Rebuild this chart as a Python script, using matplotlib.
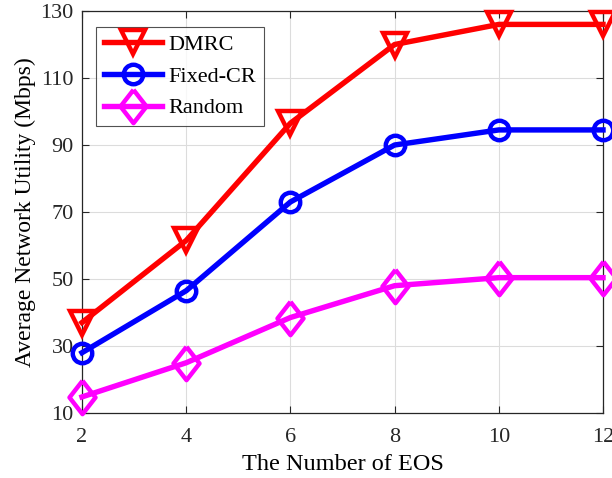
import matplotlib
matplotlib.use("Agg")
import matplotlib.pyplot as plt

plt.rcParams['font.family'] = ['Liberation Serif', 'DejaVu Serif']
plt.rcParams['mathtext.fontset'] = 'stix'

eos = [2, 4, 6, 8, 10, 12]
dmrc = [37, 61.5, 96.5, 120, 126, 126]
fixed_cr = [28, 46.5, 73, 90, 94.5, 94.5]
random_sel = [14.8, 25, 38.5, 48, 50.4, 50.4]

xticks = [2, 4, 6, 8, 10, 12]
yticks = [10, 30, 50, 70, 90, 110, 130]

diamond = [(0, 1), (0.78, 0), (0, -1), (-0.78, 0), (0, 1)]

fig = plt.figure(figsize=(6.12, 4.78), dpi=100)
ax = fig.add_axes([82/612, 1 - 413/478, 521/612, 402/478])

lw = 3.9
mew = 3.2
ax.plot(eos, dmrc, color='#ff0000', lw=lw, marker='v', ms=17, mew=mew,
        mfc='none', mec='#ff0000', label='DMRC', clip_on=False, zorder=5)
ax.plot(eos, fixed_cr, color='#0000ff', lw=lw, marker='o', ms=14, mew=mew,
        mfc='none', mec='#0000ff', label='Fixed-CR', clip_on=False, zorder=4)
ax.plot(eos, random_sel, color='#ff00ff', lw=lw, marker=diamond, ms=24, mew=mew,
        mfc='none', mec='#ff00ff', label='Random', clip_on=False, zorder=3)

ax.set_xlim(2, 12)
ax.set_ylim(10, 130)
ax.set_xticks(xticks)
ax.set_yticks(yticks)
ax.tick_params(direction='in', which='both', top=True, right=True,
               labelsize=16, length=5, width=0.8, colors='#262626')
ax.tick_params(axis='x', pad=10.5)
ax.tick_params(axis='y', pad=6)
ax.grid(True, color='#dcdcdc', lw=0.8)
ax.set_axisbelow(True)
for s in ax.spines.values():
    s.set_color('#262626')
    s.set_linewidth(0.9)

ax.set_xlabel('The Number of EOS', fontsize=17.5, color='#000000', labelpad=5)
ax.set_ylabel('Average Network Utility (Mbps)', fontsize=17, color='#000000', labelpad=3)

leg = ax.legend(loc='upper left', bbox_to_anchor=(0.027, 0.961), fontsize=16,
                frameon=True, fancybox=False, edgecolor='#262626',
                handlelength=2.6, handletextpad=0.3, borderpad=0.35,
                labelspacing=0.5, borderaxespad=0)
leg.get_frame().set_linewidth(0.8)

fig.savefig('out.png', dpi=100)
